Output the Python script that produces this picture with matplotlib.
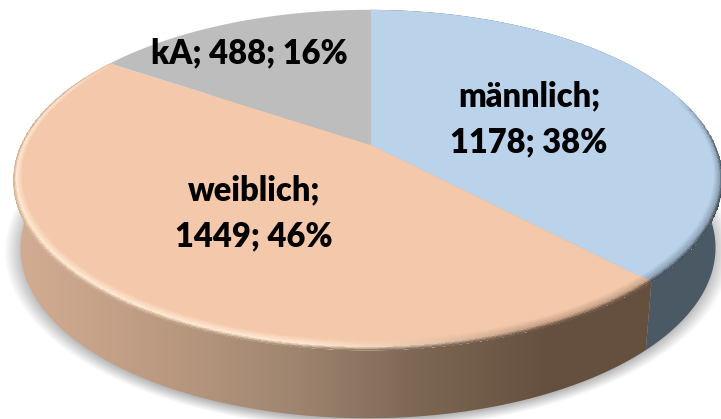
import numpy as np
import matplotlib
matplotlib.use('Agg')
import matplotlib.pyplot as plt
from matplotlib.colors import to_rgb
from matplotlib.patches import Polygon

# data
categories = ['männlich', 'weiblich', 'kA']
counts = [1178, 1449, 488]
percents = [38, 46, 16]

top_colors = ['#BAD3EA', '#F4C8AA', '#BDBDBD']
label_pos = [(529, 119), (254, 213), (249, 53)]

# pie geometry, in pixels of the 721x419 picture
cx, cy = 371, 145
rx, ry, k, m = 347, 163, 0.206, 0.0085
depth = 68
shrink = 0.98


def project(theta, r=1.0, lower=False):
    # disk point to picture; theta is clockwise from the top (radians)
    u, v = r * np.sin(theta), r * np.cos(theta)
    w = 1 + k * v + m * u
    x = rx * u / w
    y = cy - ry * v / w
    if lower:
        return cx + shrink * x, y + depth
    return cx + x, y


def lerp(a, b, t):
    return a + (b - a) * t


def orange_side(x):
    stops_x = [10, 180, 300, 420, 550, 730]
    stops = np.array([to_rgb(c) for c in
                      ['#D4AE93', '#B8977F', '#9E846E', '#7C6654', '#65503F', '#65503F']])
    return np.stack([np.interp(x, stops_x, stops[:, i]) for i in range(3)], axis=-1)


fig = plt.figure(figsize=(7.21, 4.19), dpi=100)
ax = fig.add_axes([0, 0, 1, 1])

fracs = np.array(counts) / sum(counts)
edges = np.concatenate([[0], np.cumsum(fracs)]) * 2 * np.pi

# soft shadow below the pie
t = np.linspace(0, 2 * np.pi, 400)
sx, sy = project(t, lower=True)
for s in np.linspace(1.045, 0.99, 24):
    ax.fill(cx + (sx - cx) * s, 248 + (sy - 248) * s + 3,
            color='black', alpha=0.011, lw=0, zorder=1)

# side wall: solid blue, orange with a gradient along x
t = np.linspace(edges[0], edges[1], 200)
x1, y1 = project(t)
x2, y2 = project(t[::-1], lower=True)
ax.fill(np.r_[x1, x2], np.r_[y1, y2], color='#4A5964', lw=0, zorder=2)

t = np.linspace(edges[1], edges[2], 300)
x1, y1 = project(t)
x2, y2 = project(t[::-1], lower=True)
grad = orange_side(np.linspace(0, 721, 722))[None, :, :]
im = ax.imshow(grad, extent=[0, 721, 419, 0], aspect='auto', zorder=3)
im.set_clip_path(Polygon(np.c_[np.r_[x1, x2], np.r_[y1, y2]], transform=ax.transData))

# top faces
for i, color in enumerate(top_colors):
    t = np.linspace(edges[i], edges[i + 1], 300)
    x, y = project(t)
    ax.fill(np.r_[cx, x], np.r_[cy, y], color=color, lw=0, zorder=4)

# bevel along the front rim, about the same pixel width all the way round
th_start, th_end = np.radians(72), np.radians(305)
thetas = np.linspace(th_start, th_end, 500)
ps = np.linspace(0, 1, 14)
TT, PP = np.meshgrid(thetas, ps)
width = 0.02 + 0.022 * np.clip(-np.cos(TT), 0, 1)
X, Y = project(TT, 1 - (1 - PP) * width)
tc = 0.5 * (thetas[:-1] + thetas[1:])
rc = 0.5 * (ps[:-1] + ps[1:])
xc = project(tc)[0]

blue_top, orange_top = np.array(to_rgb(top_colors[0])), np.array(to_rgb(top_colors[1]))
blue_side = np.array(to_rgb('#3E4A54'))
cream = np.array(to_rgb('#FFE9D2'))

rgba = np.zeros((len(rc), len(tc), 4))
for j, th in enumerate(tc):
    if th < edges[1]:
        top, side = blue_top, blue_side
        hi = lerp(top, side, 0.35)
        fade = np.clip((th - th_start) / np.radians(28), 0, 1)
    else:
        top, side = orange_top, orange_side(xc[j])
        mix = np.clip((xc[j] - 300) / 220, 0, 1)
        hi = lerp(cream, lerp(top, side, 0.3), mix)
        fade = np.clip((th_end - th) / np.radians(30), 0, 1)
    for i, p in enumerate(rc):
        if p < 0.65:
            c = lerp(top, hi, p / 0.65)
        else:
            c = lerp(hi, side, (p - 0.65) / 0.35)
        rgba[i, j, :3] = c
        rgba[i, j, 3] = fade
ax.pcolormesh(X, Y, rgba, shading='flat', antialiased=False, lw=0, zorder=5)

# labels
labels = ['männlich;\n1178; 38%', 'weiblich;\n1449; 46%', 'kA; 488; 16%']
for lab, (lx, ly) in zip(labels, label_pos):
    ax.text(lx, ly, lab, ha='center', va='center', fontsize=23.5, fontweight='heavy',
            family='Lato', color='black', linespacing=1.55, zorder=6)

ax.set_xlim(0, 721)
ax.set_ylim(419, 0)
ax.axis('off')
fig.savefig('out.png', dpi=100, facecolor='white')
